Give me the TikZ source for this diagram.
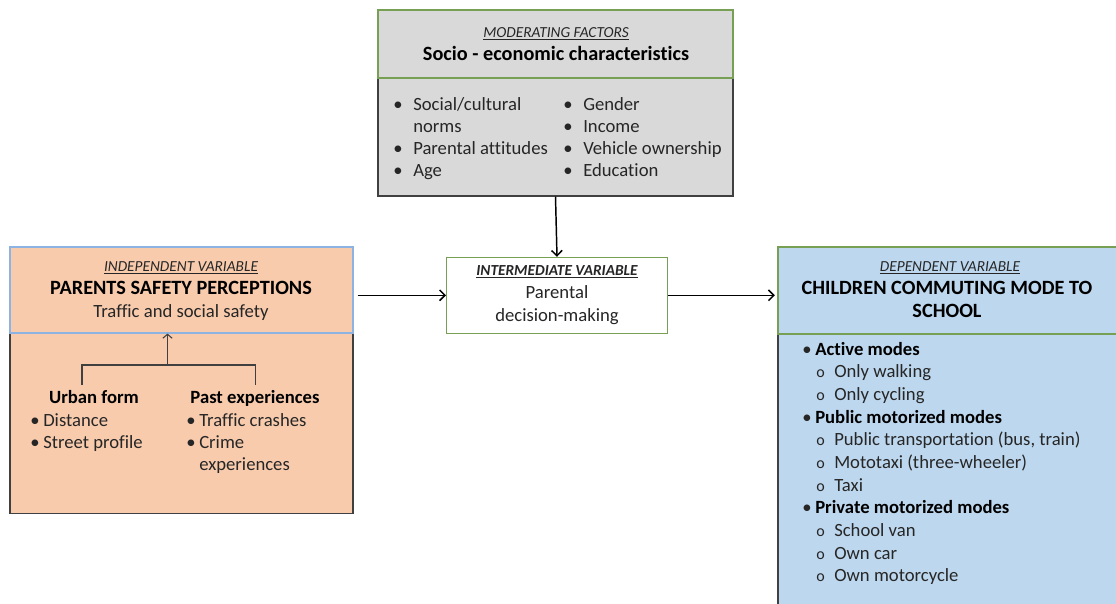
\documentclass[tikz,border=0pt]{standalone}
\usepackage{fontspec}
\setmainfont{Carlito}[Ligatures=NoCommon]
\usetikzlibrary{arrows.meta}

\definecolor{boxgrey}{HTML}{D9D9D9}
\definecolor{peach}{HTML}{F8CBAD}
\definecolor{skyblue}{HTML}{BDD7EE}
\definecolor{edgegreen}{HTML}{77A055}
\definecolor{edgeblue}{HTML}{8DB3E2}
\definecolor{edgedark}{HTML}{404040}
\definecolor{txt}{HTML}{262626}

\tikzset{
  box/.style={rectangle, inner sep=0pt, line width=0.8pt},
  lbl/.style={anchor=base, inner sep=0pt, text=txt,
    font=\fontsize{11.5}{13}\selectfont\itshape},
  ttl/.style={anchor=base, inner sep=0pt, text=black,
    font=\fontsize{15.2}{18}\selectfont\bfseries},
  sub/.style={anchor=base, inner sep=0pt, text=txt,
    font=\fontsize{14}{17}\selectfont},
  itm/.style={anchor=base west, inner sep=0pt, text=txt,
    font=\fontsize{14}{17}\selectfont},
  itmb/.style={anchor=base west, inner sep=0pt, text=black,
    font=\fontsize{14}{17}\selectfont\bfseries},
  circ/.style={anchor=base west, inner sep=0pt, text=txt,
    font=\fontsize{12}{14}\selectfont},
  flow/.style={-{Straight Barb[length=4pt,width=8pt]}, line width=1.1pt},
}

\begin{document}
\begin{tikzpicture}[x=0.75pt,y=-0.75pt]
\clip (0,0) rectangle (1116,603);

% moderating factors
\node[box,fill=boxgrey,draw=edgedark,minimum width=266.25pt,minimum height=88.5pt] (modB) at (555.5,137) {};
\node[box,fill=boxgrey,draw=edgegreen,minimum width=266.25pt,minimum height=51pt] (modH) at (555.5,44) {};
\node[lbl] (modL) at (556,37) {\underline{MODERATING FACTORS}};
\node[ttl] (modT) at (556,60) {Socio - economic characteristics};
\foreach \t/\r in {{Social/cultural}/0,Parental attitudes/2,Age/3} {
  \node[itm] (sb\r) at (393,110+22*\r) {•};
  \node[itm] (s\r) at (413,110+22*\r) {\t};
}
\node[itm] (s1) at (413,132) {norms};
\foreach \t [count=\i from 0] in {Gender,Income,Vehicle ownership,Education} {
  \node[itm] (eb\i) at (563,110+22*\i) {•};
  \node[itm] (e\i) at (583,110+22*\i) {\t};
}

% independent variable
\node[box,fill=peach,draw=edgedark,minimum width=257.25pt,minimum height=135pt] (indB) at (181.5,423.5) {};
\node[box,fill=peach,draw=edgeblue,minimum width=257.25pt,minimum height=64.5pt] (indH) at (181.5,290) {};
\node[lbl] (indL) at (181,271) {\underline{INDEPENDENT VARIABLE}};
\node[ttl] (indT) at (181,294) {PARENTS SAFETY PERCEPTIONS};
\node[sub] (indS) at (181,317) {Traffic and social safety};
\node[itmb,anchor=base] (urban) at (94,403) {Urban form};
\node[itmb,anchor=base] (past) at (255,403) {Past experiences};
\node[itm] (ub0) at (30,426) {•};
\node[itm] (u0) at (43,426) {Distance};
\node[itm] (ub1) at (30,448) {•};
\node[itm] (u1) at (43,448) {Street profile};
\node[itm] (pb0) at (186,426) {•};
\node[itm] (p0) at (199,426) {Traffic crashes};
\node[itm] (pb1) at (186,448) {•};
\node[itm] (p1) at (199,448) {Crime};
\node[itm] (p2) at (199,470.5) {experiences};
\coordinate (jn) at (167.5,365);
\coordinate (uf) at (82,385);
\coordinate (pe) at (255.5,385);
\draw[line width=0.8pt,edgedark] (uf) |- (jn) -| (pe);
\draw[line width=0.8pt,edgedark,-{Straight Barb[length=3pt,width=7pt]}] (jn) -- (indH.south -| jn);

% intermediate variable
\node[box,fill=white,draw=edgegreen,minimum width=165.75pt,minimum height=57pt] (mid) at (557,295.3) {};
\node[lbl] (midL) at (557,275) {\underline{\bfseries INTERMEDIATE VARIABLE}};
\node[sub] (midT1) at (557,298.5) {Parental};
\node[sub] (midT2) at (557,321) {decision-making};

% dependent variable
\node[box,fill=skyblue,draw=edgedark,minimum width=258pt,minimum height=210pt] (depB) at (950,473.5) {};
\node[box,fill=skyblue,draw=edgegreen,minimum width=258pt,minimum height=65.25pt] (depH) at (950,290.5) {};
\node[lbl] (depL) at (950,271.5) {\underline{DEPENDENT VARIABLE}};
\node[ttl] (depT1) at (947,294) {CHILDREN COMMUTING MODE TO};
\node[ttl] (depT2) at (947,317) {SCHOOL};
\foreach \t/\r in {Active modes/0,Public motorized modes/3,Private motorized modes/7} {
  \node[itm] (mb\r) at (802,355+22.67*\r) {•};
  \node[itmb] (m\r) at (815,355+22.67*\r) {\t};
}
\foreach \t/\r in {Only walking/1,Only cycling/2,{Public transportation (bus, train)}/4,
    Mototaxi (three-wheeler)/5,Taxi/6,School van/8,Own car/9,Own motorcycle/10} {
  \node[circ] (mo\r) at (816,355+22.67*\r) {o};
  \node[itm] (m\r) at (834,355+22.67*\r) {\t};
}

% connectors
\draw[flow] (modB.south) -- (mid.north);
\draw[flow,shorten <=3pt] (indH.east |- mid.west) -- (mid.west);
\draw[flow,shorten >=2pt] (mid.east) -- (mid.east -| depH.west);
\end{tikzpicture}
\end{document}
